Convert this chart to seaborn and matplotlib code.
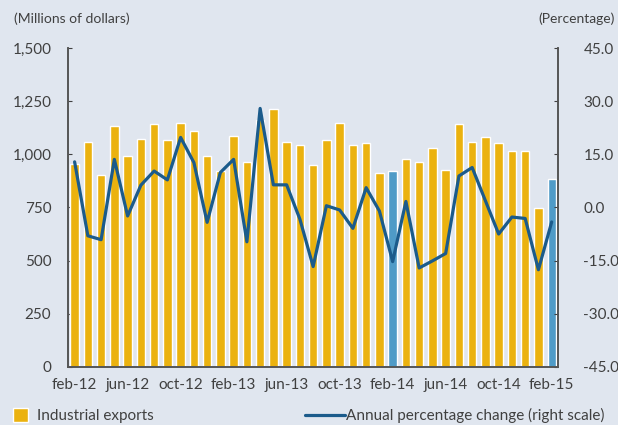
import numpy as np
import pandas as pd
import matplotlib
matplotlib.use("Agg")
import matplotlib.pyplot as plt
from matplotlib.patches import Patch
from matplotlib.lines import Line2D
import seaborn as sns

# monthly data feb-12 .. feb-15
months = ['feb-12', 'mar-12', 'apr-12', 'may-12', 'jun-12', 'jul-12', 'aug-12', 'sep-12',
          'oct-12', 'nov-12', 'dec-12', 'jan-13', 'feb-13', 'mar-13', 'apr-13', 'may-13',
          'jun-13', 'jul-13', 'aug-13', 'sep-13', 'oct-13', 'nov-13', 'dec-13', 'jan-14',
          'feb-14', 'mar-14', 'apr-14', 'may-14', 'jun-14', 'jul-14', 'aug-14', 'sep-14',
          'oct-14', 'nov-14', 'dec-14', 'jan-15', 'feb-15']
exports = [956, 1058, 904, 1133, 992, 1074, 1141, 1066, 1149, 1111, 992, 920,
           1089, 964, 1161, 1215, 1058, 1046, 948, 1066, 1147, 1046, 1053, 912,
           922, 977, 964, 1030, 926, 1141, 1060, 1081, 1053, 1014, 1014, 749, 882]
pct_change = [12.9, -8.0, -9.1, 13.6, -2.4, 6.3, 10.3, 7.8, 19.8, 12.7, -4.2, 9.9,
              13.6, -9.7, 28.0, 6.4, 6.4, -3.3, -16.7, 0.5, -0.7, -5.9, 5.6, -1.0,
              -15.3, 1.7, -17.1, -15.1, -13.0, 8.9, 11.3, 1.9, -7.5, -2.7, -3.1, -17.6, -4.1]
highlight = ['feb-14', 'feb-15']
tick_labels = months[::4]

bg = '#E0E6EF'
yellow = '#EBB20F'
blue_bar = '#4F9BC7'
line_col = '#1B5B8B'
txt = '#404040'

sns.set_style('white')
plt.rcParams['font.family'] = ['Lato', 'DejaVu Sans']

df = pd.DataFrame({'month': months, 'exports': exports, 'pct': pct_change})
colors = [blue_bar if m in highlight else yellow for m in months]

fig = plt.figure(figsize=(6.18, 4.25), dpi=100, facecolor=bg)
ax = fig.add_axes([0.110, 0.1372, 0.7934, 0.7492])
ax.set_facecolor(bg)

sns.barplot(data=df, x='month', y='exports', hue='month', palette=colors,
            legend=False, width=0.63, saturation=1, ax=ax)
ax.set_xlim(-0.5, len(months) - 0.5)
ax.set_ylim(0, 1500)
ax.set_yticks(np.arange(0, 1501, 250))
ax.set_yticklabels([f'{v:,}' for v in range(0, 1501, 250)])
ax.set_xticks(range(0, len(months), 4))
ax.set_xticklabels(tick_labels)
ax.set_xticks(np.arange(3.5, len(months), 4), minor=True)
ax.set_xlabel('')
ax.set_ylabel('')

ax2 = ax.twinx()
sns.lineplot(x=np.arange(len(months)), y=pct_change, color=line_col, linewidth=2.3, ax=ax2)
ax2.set_ylim(-45, 45)
ax2.set_yticks(np.arange(-45, 46, 15))
ax2.set_yticklabels([f'{v:.1f}' for v in np.arange(-45, 46, 15)])

for a in (ax, ax2):
    for s in a.spines.values():
        s.set_color('#555555')
        s.set_linewidth(1.2)
    a.spines['top'].set_visible(False)

ax.tick_params(axis='x', which='major', length=0, pad=8, labelsize=11, colors=txt)
ax.tick_params(axis='x', which='minor', direction='in', length=4, color='#555555')
ax.tick_params(axis='y', direction='in', length=3, pad=12, labelsize=11, colors=txt)
ax2.tick_params(axis='y', direction='in', length=3, pad=18, labelsize=11, colors=txt)

fig.text(0.022, 0.955, '(Millions of dollars)', fontsize=10, color=txt, va='center')
fig.text(0.995, 0.955, '(Percentage)', fontsize=10, color=txt, va='center', ha='right')

fig.legend(handles=[Patch(facecolor=yellow, label='Industrial exports')],
           loc='center left', bbox_to_anchor=(-0.002, 0.022), frameon=False,
           fontsize=11, handlelength=1.0, handleheight=1.0, handletextpad=0.6,
           labelcolor=txt)
fig.legend(handles=[Line2D([], [], color=line_col, linewidth=2.3,
                           label='Annual percentage change (right scale)')],
           loc='center left', bbox_to_anchor=(0.472, 0.022), frameon=False,
           fontsize=11, handlelength=2.6, handletextpad=0.05, labelcolor=txt)

fig.savefig('out.png', dpi=100, facecolor=bg)
